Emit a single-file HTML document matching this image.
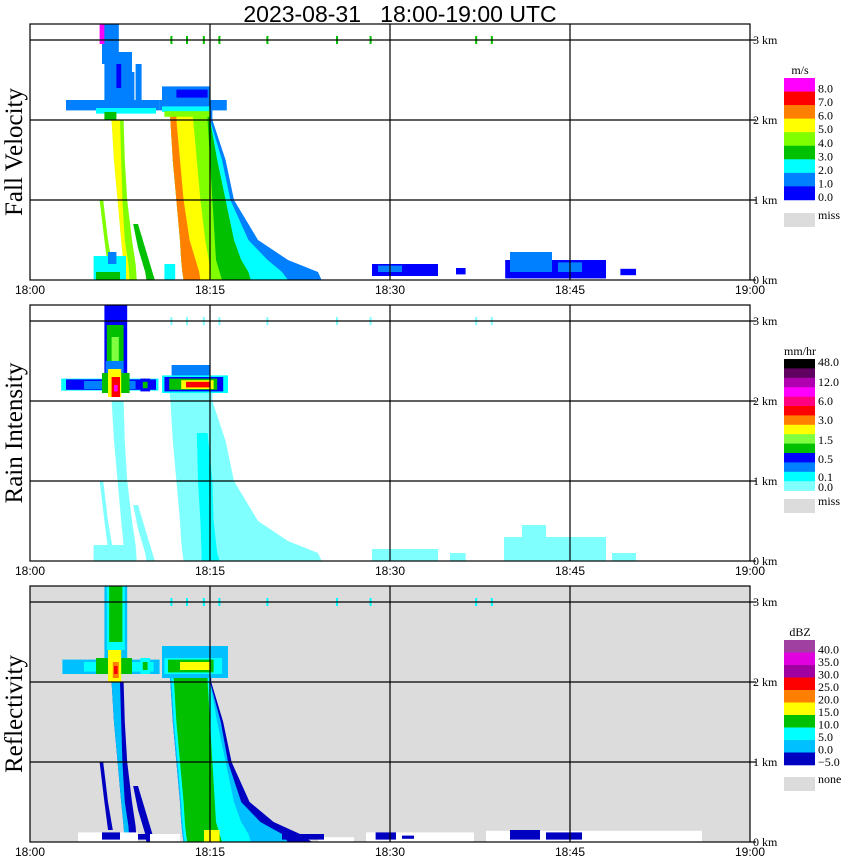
<!DOCTYPE html>
<html><head><meta charset="utf-8"><style>
html,body{margin:0;padding:0;background:#fff;width:850px;height:868px;overflow:hidden}
svg text{font-family:"Liberation Serif",serif}
</style></head><body>
<svg id="chart" width="850" height="868" xmlns="http://www.w3.org/2000/svg">
<text x="400" y="22" text-anchor="middle" xml:space="preserve" style="font-family:'Liberation Sans',sans-serif;font-size:23px;white-space:pre">2023-08-31   18:00-19:00 UTC</text>
</svg>
<script>
// ---- data (minutes after 18:00, km) ----
const timeTicks = [0, 15, 30, 45, 60];
const timeLabels = ["18:00", "18:15", "18:30", "18:45", "19:00"];
const kmTicks = [0, 1, 2, 3];
const kmLabels = ["0 km", "1 km", "2 km", "3 km"];
const panelTitles = ["Fall Velocity", "Rain Intensity", "Reflectivity"];

// main streak geometry
const mainH = [2.12, 2.0, 1.5, 1.0, 0.5, 0.25, 0.1, 0.0];
const mainLeft = [11.6, 11.7, 11.9, 12.2, 12.5, 12.6, 12.7, 12.8];
const mainOuter = [15.2, 15.2, 16.3, 17.0, 19.0, 21.5, 24.0, 24.3];
const mainBand2 = [15.0, 15.0, 16.0, 16.7, 18.2, 19.8, 21.0, 21.5];
const mainBand3 = [15.0, 15.0, 15.6, 16.3, 17.0, 17.6, 18.2, 18.4];
const mainBand4 = [14.8, 14.8, 15.0, 15.2, 15.4, 15.5, 15.8, 16.0];
const mainBand5 = [13.5, 13.6, 13.9, 14.2, 14.6, 14.9, 15.0, 15.0];
const mainBand6 = [12.2, 12.2, 12.5, 12.8, 13.3, 13.8, 14.1, 14.2];
// reflectivity-specific outer bands
const dbzDark = [15.1, 15.1, 16.1, 16.8, 18.3, 20.3, 22.5, 23.5];
const dbzLight = [15.0, 15.0, 15.9, 16.5, 17.6, 19.2, 21.0, 21.5];
// streak A (~18:07)
const aH = [2.0, 1.5, 1.0, 0.5, 0.2, 0.0];
const aLeft = [6.8, 7.0, 7.3, 7.6, 7.8, 7.9];
const aRight = [7.8, 7.9, 8.1, 8.5, 8.8, 8.9];
const aInner = [7.5, 7.6, 7.7, 7.9, 8.2, 8.3];
// streak B and C
const bH = [1.0, 0.5, 0.15];
const bLeft = [5.8, 6.2, 6.5];
const bRight = [6.1, 6.5, 6.9];
const cH = [0.7, 0.4, 0.1, 0.0];
const cLeft = [8.6, 9.0, 9.6, 9.7];
const cRight = [9.0, 9.6, 10.2, 10.4];
// top tick marks at 3 km
const topMarks = [11.7, 13.0, 14.4, 15.7, 19.7, 25.5, 28.3, 37.1, 38.4];

// blobs [t0, t1, z0, z1, colour]
const fvBlobs = [
 [6.0,7.4,2.7,3.2,'#0080ff'],[6.2,8.5,2.25,2.85,'#0080ff'],[6.6,8.7,2.25,2.6,'#0080ff'],
 [7.2,7.6,2.4,2.7,'#0000ff'],[5.8,6.2,2.95,3.2,'#ff00ff'],
 [3.0,10.8,2.12,2.25,'#0080ff'],[5.5,10.5,2.08,2.15,'#00ffff'],[6.2,7.2,2.0,2.1,'#00c000'],
 [8.8,9.3,2.25,2.7,'#0080ff'],
 [10.8,16.4,2.12,2.25,'#0080ff'],[11.0,15.0,2.25,2.42,'#0080ff'],[12.2,14.8,2.28,2.38,'#0000ff'],
 [11.0,15.0,2.1,2.17,'#00ffff'],[11.2,15.0,2.04,2.11,'#80ff00'],
 [5.3,8.0,0.0,0.3,'#00ffff'],[5.5,7.5,0.0,0.1,'#00c000'],[6.5,7.2,0.2,0.35,'#0080ff'],[11.2,12.1,0.0,0.2,'#00ffff'],
 [28.5,34.0,0.05,0.2,'#0000ff'],[29,31,0.1,0.18,'#0080ff'],[35.5,36.3,0.07,0.15,'#0000ff'],
 [39.6,48.0,0.02,0.25,'#0000ff'],[40.0,43.5,0.1,0.35,'#0080ff'],[44,46,0.1,0.22,'#0080ff'],[49.2,50.5,0.06,0.14,'#0000ff']
];
const riBlobs = [
 [6.2,8.1,2.3,3.2,'#0000ff'],[6.4,7.8,2.4,2.95,'#00c000'],[6.8,7.4,2.5,2.8,'#80ff40'],[6.3,7.8,2.25,2.5,'#0080ff'],
 [2.6,10.7,2.13,2.28,'#00ffff'],[3.0,10.5,2.14,2.27,'#0000ff'],[4.5,8.8,2.15,2.25,'#0080ff'],
 [6.0,8.3,2.1,2.35,'#00c000'],[6.5,7.6,2.05,2.4,'#ffff00'],[6.8,7.5,2.05,2.3,'#ff0000'],[7.0,7.3,2.12,2.2,'#ff00ff'],
 [9.2,10.0,2.12,2.28,'#0000ff'],[9.4,9.8,2.16,2.24,'#00c000'],
 [11.8,15.0,2.3,2.45,'#0080ff'],[11.0,16.5,2.1,2.32,'#00ffff'],[11.2,16.1,2.12,2.3,'#0000ff'],
 [11.6,15.6,2.14,2.28,'#00c000'],[12.6,15.3,2.15,2.26,'#ffff00'],[13.0,15.0,2.17,2.24,'#ff0000'],
 [5.3,8.0,0.0,0.2,'#80ffff'],[28.5,34.0,0.0,0.15,'#80ffff'],[35.0,36.3,0.0,0.1,'#80ffff'],
 [39.5,48.0,0.0,0.3,'#80ffff'],[41.0,43.0,0.1,0.45,'#80ffff'],[48.5,50.5,0.0,0.1,'#80ffff']
];
const dbzBlobs = [
 [6.2,8.1,2.3,3.2,'#00c0ff'],[6.4,7.9,2.4,3.2,'#00ffff'],[6.6,7.7,2.5,3.2,'#00c000'],
 [2.7,10.8,2.1,2.28,'#00c0ff'],[4.5,10.3,2.13,2.25,'#00ffff'],[5.5,8.5,2.1,2.3,'#00c000'],
 [6.5,7.6,2.0,2.4,'#ffff00'],[6.9,7.4,2.05,2.25,'#ff8000'],[7.0,7.3,2.1,2.2,'#ff0000'],
 [9.2,10.0,2.1,2.3,'#00ffff'],[9.4,9.8,2.15,2.25,'#00c000'],
 [11.0,16.5,2.05,2.45,'#00c0ff'],[11.2,16.0,2.1,2.3,'#00ffff'],[11.5,15.3,2.12,2.28,'#00c000'],[12.5,15.0,2.15,2.25,'#ffff00'],
 [14.5,15.8,0.0,0.15,'#ffff00'],
 [4.0,9.0,0.0,0.12,'#ffffff'],[10.0,12.5,0.0,0.1,'#ffffff'],[24,27,0,0.06,'#ffffff'],
 [28.0,37.0,0.0,0.12,'#ffffff'],[38.0,56.0,0.0,0.14,'#ffffff'],
 [6.0,7.5,0.03,0.12,'#0000c0'],[9.0,9.8,0.03,0.1,'#0000c0'],[21,24.5,0.03,0.1,'#0000c0'],
 [28.8,30.5,0.03,0.12,'#0000c0'],[31,32,0.04,0.08,'#0000c0'],[40.0,42.5,0.03,0.15,'#0000c0'],[43.0,46.0,0.03,0.12,'#0000c0']
];

// legends
const fvLegColors = ['#ff00ff','#ff0000','#ff8000','#ffff00','#80ff00','#00c000','#00ffff','#0080ff','#0000ff'];
const fvLegLabels = ['8.0','7.0','6.0','5.0','4.0','3.0','2.0','1.0','0.0'];
const riLegColors = ['#000000','#600060','#b000b0','#ff00ff','#ff0080','#ff0000','#ff8000','#ffff00','#80ff40','#00c000','#0000ff','#0080ff','#00ffff','#80ffff'];
const riLegLabels = ['48.0','12.0','6.0','3.0','1.5','0.5','0.1','0.0'];
const dbzLegColors = ['#a040a0','#e000e0','#a000a0','#ff0000','#ff8000','#ffff00','#00c000','#00ffff','#00c0ff','#0000c0'];
const dbzLegLabels = ['40.0','35.0','30.0','25.0','20.0','15.0','10.0','5.0','0.0','\u22125.0'];

const NS = 'http://www.w3.org/2000/svg';
const svg = document.getElementById('chart');
const panelBottoms = [280, 561, 842];
const X0 = 30, PXMIN = 12, PXKM = 80;
function xs(m){return X0 + m*PXMIN;}
function ys(p,z){return panelBottoms[p] - z*PXKM;}
function mk(tag, attrs, parent){const e=document.createElementNS(NS,tag);for(const k in attrs)e.setAttribute(k,attrs[k]);(parent||svg).appendChild(e);return e;}

function streak(p, H, L, R, color, g){
  const pts=[];
  for(let i=0;i<H.length;i++) pts.push(xs(L[i])+','+ys(p,H[i]));
  for(let i=H.length-1;i>=0;i--) pts.push(xs(R[i])+','+ys(p,H[i]));
  const e=mk('polygon',{points:pts.join(' '),fill:color},g);
  
  
}
function blobs(p, list, g){
  list.forEach(b=>{
    const e=mk('rect',{x:xs(b[0]),y:ys(p,b[3]),width:xs(b[1])-xs(b[0]),height:ys(p,b[2])-ys(p,b[3]),fill:b[4]},g);
    
    
  });
}
function marks(p, color, g){
  topMarks.forEach(m=>{
    const e=mk('rect',{x:xs(m),y:ys(p,3.05),width:2,height:8,fill:color},g);
    
    
  });
}

for(let p=0;p<3;p++){
  const g=mk('g',{});
  
  
  const top=ys(p,3.2), bot=ys(p,0);
  const bg=mk('rect',{x:xs(0),y:top,width:xs(60)-xs(0),height:bot-top,fill:p==2?'#dcdcdc':'#fff'},g);
  
  
  if(p==0){
    streak(0,mainH,mainLeft,mainOuter,'#0080ff',g);
    streak(0,mainH,mainLeft,mainBand2,'#00ffff',g);
    streak(0,mainH,mainLeft,mainBand3,'#00c000',g);
    streak(0,mainH,mainLeft,mainBand4,'#80ff00',g);
    streak(0,mainH,mainLeft,mainBand5,'#ffff00',g);
    streak(0,mainH,mainLeft,mainBand6,'#ff8000',g);
    streak(0,aH,aLeft,aRight,'#80ff00',g);
    streak(0,aH,aLeft,aInner,'#ffff00',g);
    streak(0,bH,bLeft,bRight,'#80ff00',g);
    streak(0,cH,cLeft,cRight,'#00c000',g);
    blobs(0,fvBlobs,g); marks(0,'#00c000',g);
  } else if(p==1){
    streak(1,mainH,mainLeft,mainOuter,'#80ffff',g);
    streak(1,[1.6,1.0,0.5,0.1,0.0],[13.9,14.0,14.2,14.3,14.3],[14.8,15.2,15.3,15.6,15.8],'#00ffff',g);
    streak(1,aH,aLeft,aRight,'#80ffff',g);
    streak(1,bH,bLeft,bRight,'#80ffff',g);
    streak(1,cH,cLeft,cRight,'#80ffff',g);
    blobs(1,riBlobs,g); marks(1,'#80ffff',g);
  } else {
    streak(2,mainH,mainLeft,dbzDark,'#0000c0',g);
    streak(2,mainH,mainLeft,dbzLight,'#00c0ff',g);
    streak(2,mainH,mainLeft.map(v=>v+0.1),mainBand3,'#00ffff',g);
    streak(2,mainH,mainLeft.map(v=>v+0.3),mainBand4,'#00c000',g);
    streak(2,aH,aLeft,aRight,'#0000c0',g);
    streak(2,aH,aLeft,aInner,'#00c0ff',g);
    streak(2,bH,bLeft,bRight,'#0000c0',g);
    streak(2,cH,cLeft,cRight,'#0000c0',g);
    blobs(2,dbzBlobs,g); marks(2,'#00ffff',g);
  }
  // grid
  kmTicks.slice(1).forEach(k=>{
    const l=mk('line',{x1:xs(0),x2:xs(60)+6,y1:ys(p,k),y2:ys(p,k),stroke:'#000','stroke-width':1.2},g);
    
    
  });
  timeTicks.slice(1,4).forEach(t=>{
    const l=mk('line',{x1:xs(t),x2:xs(t),y1:top,y2:bot,stroke:'#000','stroke-width':1.2},g);
    
    
  });
  const fr=mk('rect',{x:xs(0),y:top,width:xs(60)-xs(0),height:bot-top,fill:'none',stroke:'#000','stroke-width':1.2},g);
  
  
  const tk=mk('line',{x1:xs(60),x2:xs(60)+6,y1:bot,y2:bot,stroke:'#000','stroke-width':1.2},g);
  
  
  kmTicks.forEach((k,i)=>{
    const t=mk('text',{x:753,y:ys(p,k)+4,'font-size':12},g);
    t.textContent=kmLabels[i];
    
    
  });
  timeTicks.forEach((m,i)=>{
    const t=mk('text',{x:xs(m),y:bot+14,'font-size':12,'text-anchor':'middle',style:"font-family:'Liberation Sans',sans-serif"},g);
    t.textContent=timeLabels[i];
    
    
  });
  const yt=mk('text',{x:0,y:0,'font-size':25,'text-anchor':'middle',transform:`translate(22,${(top+bot)/2}) rotate(-90)`},g);
  yt.textContent=panelTitles[p];
  
  
}

function legend(colors, labels, y0, boxH, unit, missLabel, missY, labelYs){
  const g=mk('g',{});
  
  
  const h=mk('text',{x:800,y:y0-4,'font-size':12,'text-anchor':'middle'},g);
  h.textContent=unit;
  
  
  colors.forEach((c,i)=>{
    const r=mk('rect',{x:784,y:y0+i*boxH,width:31,height:boxH+0.3,fill:c},g);
    
    
  });
  labels.forEach((l,i)=>{
    const t=mk('text',{x:818,y:labelYs[i],'font-size':12},g);
    t.textContent=l;
    
    
  });
  const m=mk('rect',{x:784,y:missY,width:31,height:14,fill:'#dcdcdc'},g);
  
  
  const mt=mk('text',{x:818,y:missY+6,'font-size':12},g);
  mt.textContent=missLabel;
  
  
}
legend(fvLegColors,fvLegLabels,78,13.55,'m/s','miss',213,fvLegLabels.map((_,i)=>78+13.55*(i+1)+1));
legend(riLegColors,riLegLabels,359,9.4,'mm/hr','miss',499,[366,386,405,424,444,463,481,491]);
legend(dbzLegColors,dbzLegLabels,640,12.5,'dBZ','none',777,dbzLegLabels.map((_,i)=>640+12.5*(i+1)+1));
</script>
</body></html>
